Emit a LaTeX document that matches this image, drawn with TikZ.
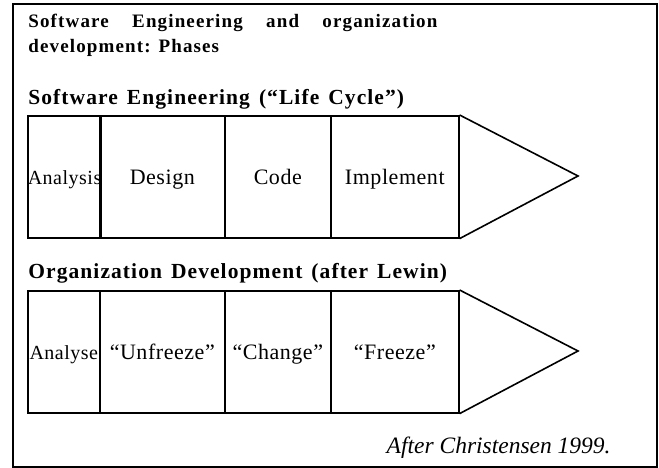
\documentclass[tikz,border=0pt]{standalone}
\usepackage{fontspec}
\setmainfont{Liberation Serif}
\newfontfamily\titlefont[LetterSpace=6]{Liberation Serif}
\newfontfamily\headfont[LetterSpace=5, WordSpace=1.4]{Liberation Serif}
\newfontfamily\labelfont[LetterSpace=2.5]{Liberation Serif}
\usetikzlibrary{positioning}

\begin{document}
\begin{tikzpicture}[x=1pt, y=-1pt, thick]
	\tikzset{
		phase/.style={draw, line width=1.6pt, anchor=north west, inner sep=0pt,
			minimum height=122pt, text height=15pt, text depth=0pt},
		heading/.style={anchor=base west, inner sep=0pt, font=\fontsize{21.5}{24}\selectfont\headfont\bfseries},
		titleline/.style={anchor=base west, inner sep=0pt, font=\fontsize{19}{24}\selectfont\titlefont\bfseries},
		tip/.style={line width=1.6pt, line join=miter},
	}
	\useasboundingbox (0,0) rectangle (659,468);
	\draw[line width=2pt] (13,4) rectangle (657,467);

	% title, first line set justified
	\node[titleline] (title1) at (28,28) {\makebox[409pt][s]{Software Engineering and organization}};
	\node[titleline] (title2) at (28,53) {development: Phases};

	% life cycle row
	\node[heading] (secase) at (28,105) {Software Engineering (“Life Cycle”)};
	\foreach \name/\x/\w/\fs/\txt in {ana/27/72/20/Analysis, des/99/125/22/Design, cod/224/106/22/Code, imp/330/128/22/Implement}{
		\node[phase, minimum width=\w pt, font=\fontsize{\fs}{\fs}\selectfont\labelfont] (se-\name) at (\x,115) {\txt};
	}
	\coordinate (se-tip) at (578,176);
	\draw[tip] (se-imp.north east) -- (se-tip) -- (se-imp.south east);

	% Lewin row
	\node[heading] (orgdev) at (28,278) {Organization Development (after Lewin)};
	\foreach \name/\x/\w/\fs/\txt in {ana/27/72/20/Analyse, unf/99/125/22/“Unfreeze”, chg/224/106/22/“Change”, frz/330/128/22/“Freeze”}{
		\node[phase, minimum width=\w pt, font=\fontsize{\fs}{\fs}\selectfont\labelfont] (od-\name) at (\x,290) {\txt};
	}
	\coordinate (od-tip) at (578,351);
	\draw[tip] (od-frz.north east) -- (od-tip) -- (od-frz.south east);

	% source
	\node[anchor=base east, inner sep=0pt, font=\fontsize{23.5}{24}\selectfont\itshape] (source) at (611,453) {After Christensen 1999.};
\end{tikzpicture}
\end{document}
